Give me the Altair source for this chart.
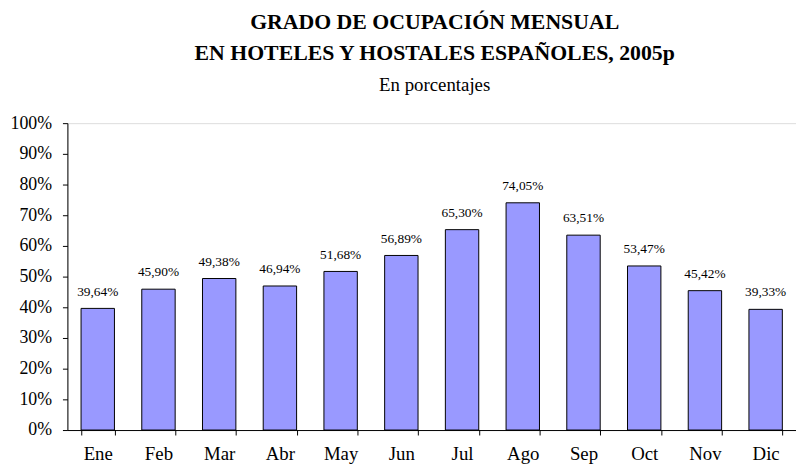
import altair as alt
import pandas as pd

months = ["Ene", "Feb", "Mar", "Abr", "May", "Jun", "Jul", "Ago", "Sep", "Oct", "Nov", "Dic"]
ocupacion = [39.64, 45.90, 49.38, 46.94, 51.68, 56.89, 65.30, 74.05, 63.51, 53.47, 45.42, 39.33]
y_ticks = [0, 0.1, 0.2, 0.3, 0.4, 0.5, 0.6, 0.7, 0.8, 0.9, 1.0]
title_line1 = "GRADO DE OCUPACIÓN MENSUAL"
title_line2 = "EN HOTELES Y HOSTALES ESPAÑOLES, 2005p"
subtitle = "En porcentajes"

SERIF = "Liberation Serif"
W, H = 736, 310

df = pd.DataFrame({
    "mes": months,
    "valor": [v / 100 for v in ocupacion],
    "etiqueta": [f"{v:.2f}%".replace(".", ",") for v in ocupacion],
})

x = alt.X(
    "mes:N", sort=months,
    scale=alt.Scale(paddingInner=0.45, paddingOuter=0.225),
    axis=alt.Axis(
        title=None, labelAngle=0, labelFont=SERIF, labelFontSize=19, labelColor="black",
        domainColor="black", tickColor="black", tickSize=5, tickBand="extent",
        labelBaseline="alphabetic", labelPadding=25, grid=False,
    ),
)
y = alt.Y(
    "valor:Q",
    scale=alt.Scale(domain=[0, 1], nice=False),
    axis=alt.Axis(
        title=None, values=y_ticks, format=".0%", labelFont=SERIF, labelFontSize=18,
        labelColor="black", domainColor="black", tickColor="black", tickSize=5,
        labelPadding=11, grid=False,
    ),
)

base = alt.Chart(df)
bars = base.mark_bar(color="#9999FF", stroke="black", strokeWidth=1).encode(x=x, y=y)
labels = base.mark_text(
    font=SERIF, fontSize=13.5, color="black", baseline="alphabetic", dy=-13
).encode(x=x, y=y, text="etiqueta:N")

def title_text(txt, ypos, size, weight):
    return alt.Chart(pd.DataFrame({"t": [txt]})).mark_text(
        font=SERIF, fontSize=size, fontWeight=weight, color="black",
        baseline="alphabetic", align="center",
    ).encode(text="t:N", x=alt.value(W / 2 + 3), y=alt.value(ypos))

t1 = title_text(title_line1, -95, 22, "bold")
t2 = title_text(title_line2, -64, 22, "bold")
t3 = title_text(subtitle, -32, 19, "normal")

chart = alt.layer(bars, labels, t1, t2, t3).properties(
    width=W, height=H,
    autosize=alt.AutoSizeParams(type="none"),
    padding={"left": 60, "top": 114, "right": 0, "bottom": 35},
).configure_view(strokeWidth=0).configure(background="white")

chart.save("out.html", embed_options={"renderer": "svg", "actions": False})
